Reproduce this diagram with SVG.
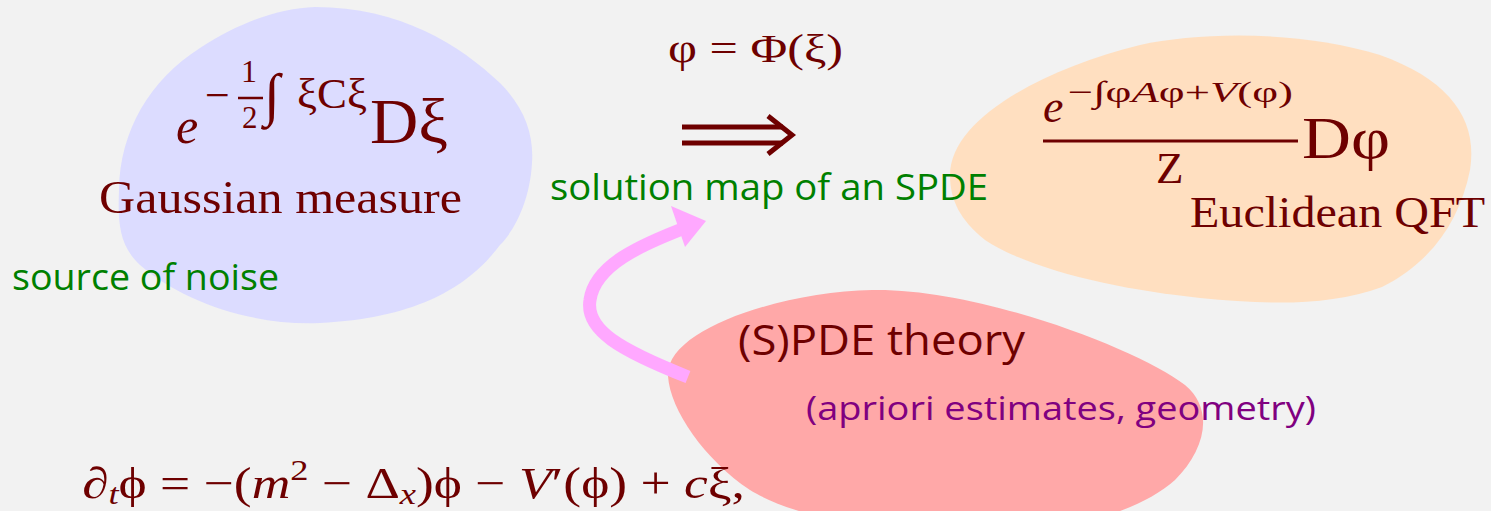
<svg xmlns="http://www.w3.org/2000/svg" width="1491" height="511" viewBox="0 0 1491 511">
<style>
.m{font-family:"Liberation Serif","DejaVu Serif",serif;fill:#6e0000}
.i{font-style:italic}
.s{font-family:"Open Sans","Noto Sans",sans-serif}
.g{fill:#008000}
.r{fill:#6e0000}
.p{fill:#800080}
</style>
<rect width="1491" height="511" fill="#f2f2f2"/>
<g id="gaussian">
<path d="M 315,7 C 400,7 460,45 500,83 C 525,108 534,135 532,163 C 530,200 515,230 500,245 C 470,285 420,318 320,323 C 250,326 180,300 140,265 C 118,245 118,220 119,190 C 120,130 150,80 200,48 C 240,22 280,8 315,7 Z" fill="#dcdcff"/>
<text class="m i" x="176" y="143" font-size="50">e</text>
<text class="m" x="205" y="110" font-size="44">−</text>
<text class="m" x="241" y="82" font-size="32">1</text>
<line x1="238" y1="98" x2="263" y2="98" stroke="#6e0000" stroke-width="2.5"/>
<text class="m" x="242" y="128" font-size="31">2</text>
<text class="m" x="264" y="114" font-size="58">∫</text>
<text class="m" x="297" y="108" font-size="42" textLength="70" lengthAdjust="spacingAndGlyphs">ξCξ</text>
<text class="m" x="370" y="143" font-size="64" textLength="78" lengthAdjust="spacingAndGlyphs">Dξ</text>
<text class="m" x="99" y="213" font-size="46" textLength="363" lengthAdjust="spacingAndGlyphs">Gaussian measure</text>
</g>
<g id="noise">
<text class="s g" x="12" y="290" font-size="36" textLength="267" lengthAdjust="spacingAndGlyphs">source of noise</text>
</g>
<g id="qft">
<path d="M 950,175 C 950,120 1040,70 1140,45 C 1200,32 1300,30 1380,55 C 1450,80 1478,120 1470,170 C 1460,220 1432,262 1382,287 C 1330,306 1270,305 1200,298 C 1120,290 1030,270 985,240 C 960,220 950,200 950,175 Z" fill="#ffdfc0"/>
<text class="m i" x="1043" y="122" font-size="46">e</text>
<text class="m" x="1068" y="102" font-size="30" textLength="225" lengthAdjust="spacingAndGlyphs">−∫φ<tspan class="i">A</tspan>φ+<tspan class="i">V</tspan>(φ)</text>
<line x1="1043" y1="141" x2="1298" y2="141" stroke="#6e0000" stroke-width="3"/>
<text class="m" x="1156" y="183" font-size="45">Z</text>
<text class="m" x="1302" y="158" font-size="60" textLength="88" lengthAdjust="spacingAndGlyphs">Dφ</text>
<text class="m" x="1190" y="227" font-size="44" textLength="295" lengthAdjust="spacingAndGlyphs">Euclidean QFT</text>
</g>
<g id="spde">
<path d="M 668,376 C 665,330 780,292 872,290 C 980,288 1140,350 1185,385 C 1215,410 1205,450 1175,480 C 1130,520 1040,535 965,535 C 880,535 790,515 750,490 C 705,460 670,410 668,376 Z" fill="#ffa8a8"/>
<text class="s r" x="738" y="355" font-size="42" textLength="287" lengthAdjust="spacingAndGlyphs">(S)PDE theory</text>
<text class="s p" x="806" y="420" font-size="32" textLength="510" lengthAdjust="spacingAndGlyphs">(apriori estimates, geometry)</text>
</g>
<g id="solution-map">
<text class="m" x="668" y="62" font-size="40" textLength="175" lengthAdjust="spacingAndGlyphs">φ = Φ(ξ)</text>
<text class="s g" x="550" y="200" font-size="36" textLength="438" lengthAdjust="spacingAndGlyphs">solution map of an SPDE</text>
</g>
<g id="equation">
<text class="m" x="82" y="498" font-size="44" textLength="663" lengthAdjust="spacingAndGlyphs">∂<tspan class="i" font-size="30" dy="6">t</tspan><tspan dy="-6">ϕ = −(</tspan><tspan class="i">m</tspan><tspan font-size="30" dy="-18">2</tspan><tspan dy="18"> − Δ</tspan><tspan class="i" font-size="30" dy="6">x</tspan><tspan dy="-6">)ϕ − </tspan><tspan class="i">V</tspan>′(ϕ) + <tspan class="i">c</tspan>ξ,</text>
</g>
<g id="connectors">
<line x1="682" y1="127" x2="783" y2="127" stroke="#6e0000" stroke-width="5"/>
<line x1="682" y1="143" x2="783" y2="143" stroke="#6e0000" stroke-width="5"/>
<polyline points="768,116 792,135 768,154" fill="none" stroke="#6e0000" stroke-width="5"/>
<path d="M 688,377 C 620,350 585,330 590,300 C 595,265 640,245 690,226" fill="none" stroke="#ffa8ff" stroke-width="13"/>
<polygon points="671,206 706,221 685,247" fill="#ffa8ff"/>
</g>
</svg>
